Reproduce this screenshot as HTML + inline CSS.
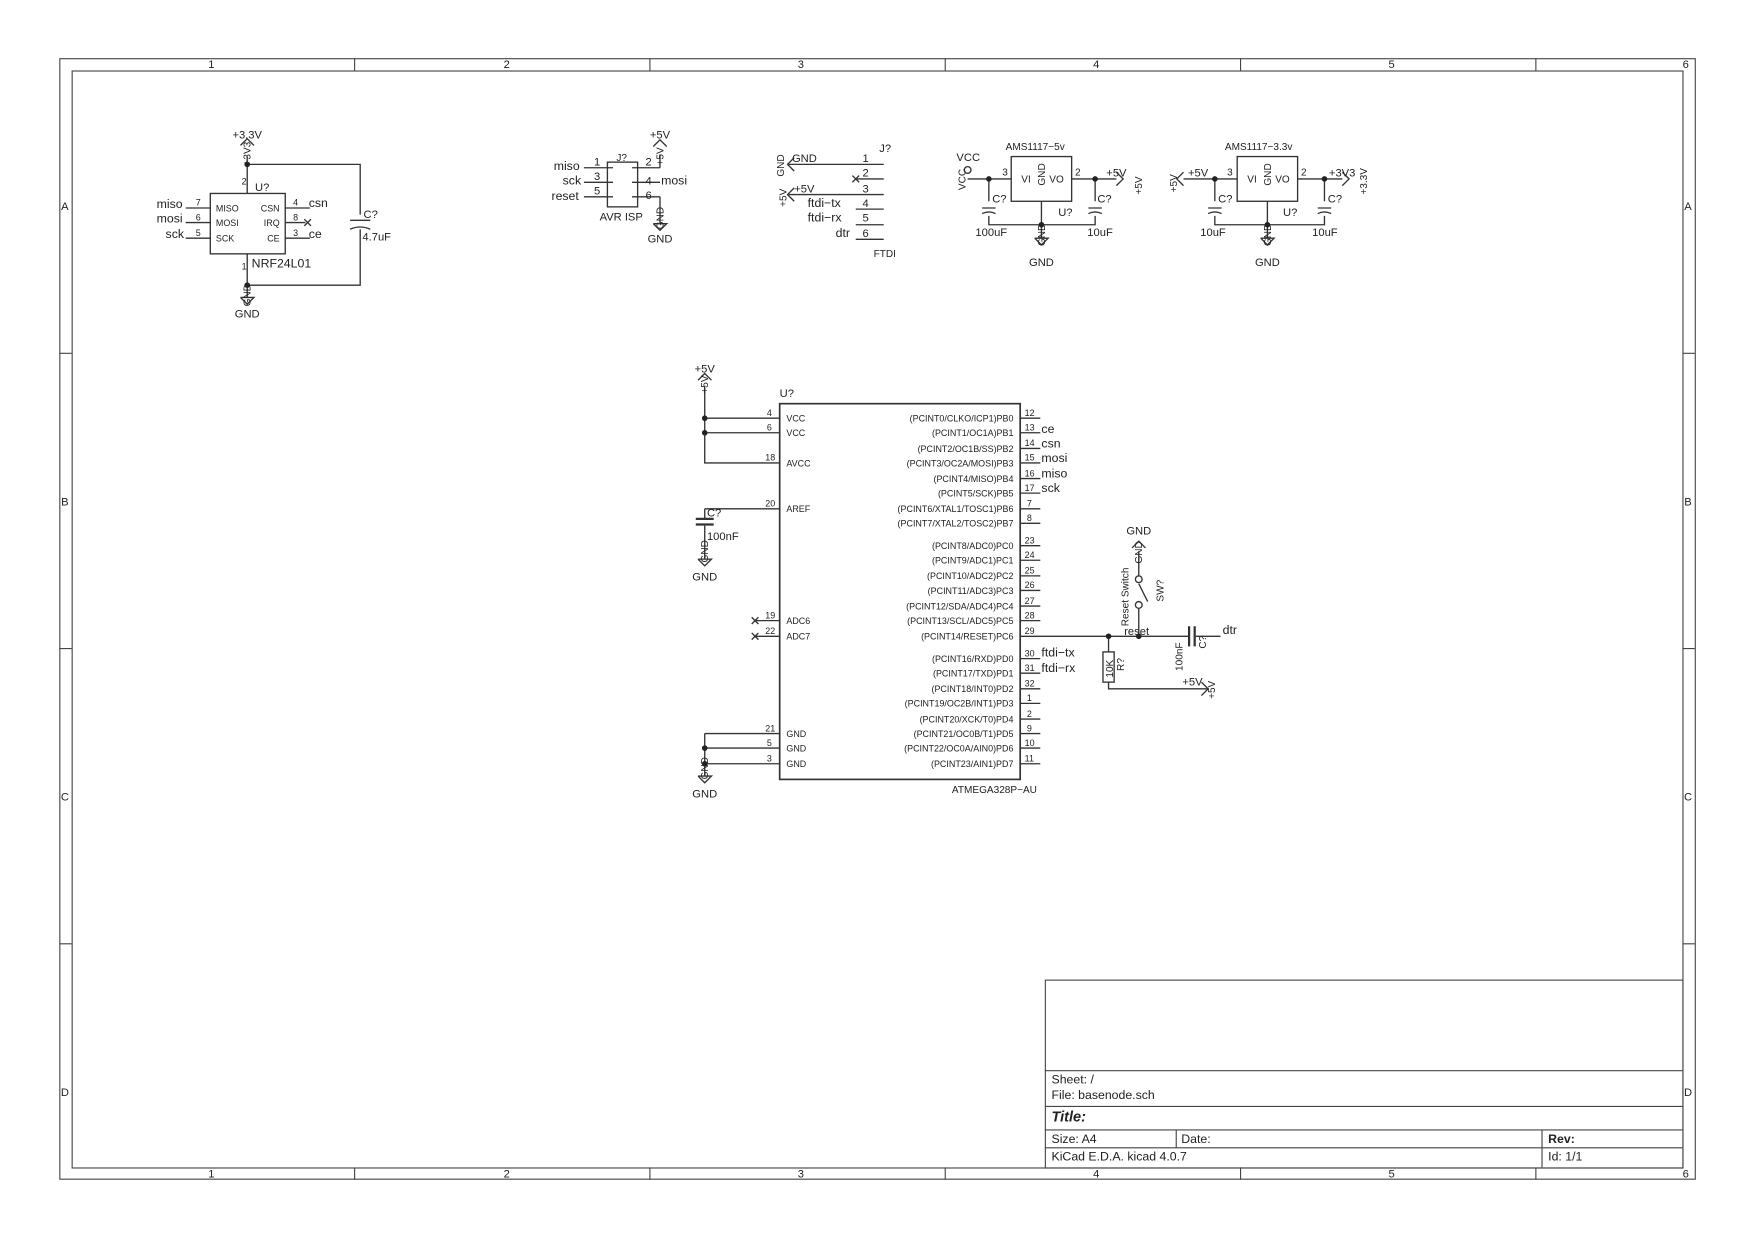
<!DOCTYPE html>
<html><head><meta charset="utf-8"><style>
html,body{margin:0;padding:0;background:#fff;}
svg{display:block}
text{font-family:"Liberation Sans",sans-serif;fill:#222}
</style></head><body>
<svg width="1754" height="1239" viewBox="0 0 1568 1108" preserveAspectRatio="none" xmlns="http://www.w3.org/2000/svg">
<g fill="none" stroke="#444" stroke-width="1">
<rect x="53.5" y="52.5" width="1462" height="1002"/>
<rect x="64.5" y="63.5" width="1440" height="981"/>
<path d="M317 52v11M581 52v11M845 52v11M1109 52v11M1373 52v11M317 1044v11M581 1044v11M845 1044v11M1109 1044v11M1373 1044v11M53 316h11M53 580h11M53 844h11M1504 316h11M1504 580h11M1504 844h11"/>
<rect x="934.5" y="876.5" width="570" height="168"/>
<path d="M934 957.5h570M934 989.5h570M934 1010.5h570M934 1026.5h570M1051.5 1010v16M1378.5 1010v34"/>
</g>
<g font-size="10" text-anchor="middle">
<text x="189" y="61">1</text><text x="453" y="61">2</text><text x="716" y="61">3</text><text x="980" y="61">4</text><text x="1244" y="61">5</text><text x="1507" y="61">6</text>
<text x="189" y="1053">1</text><text x="453" y="1053">2</text><text x="716" y="1053">3</text><text x="980" y="1053">4</text><text x="1244" y="1053">5</text><text x="1507" y="1053">6</text>
<text x="58" y="188">A</text><text x="58" y="452">B</text><text x="58" y="716">C</text><text x="58" y="980">D</text>
<text x="1509" y="188">A</text><text x="1509" y="452">B</text><text x="1509" y="716">C</text><text x="1509" y="980">D</text>
</g>
<g font-size="11">
<text x="940" y="969">Sheet: /</text><text x="940" y="983">File: basenode.sch</text>
<text x="940" y="1003" font-size="13" font-weight="bold" font-style="italic">Title:</text>
<text x="940" y="1022">Size: A4</text><text x="1056" y="1022">Date:</text><text x="1384" y="1022" font-weight="bold">Rev:</text>
<text x="940" y="1038">KiCad E.D.A.  kicad 4.0.7</text><text x="1384" y="1038">Id: 1/1</text>
</g>

<g fill="none" stroke="#333" stroke-width="1.2">
<rect x="188" y="173" width="67" height="54"/>
<path d="M221 140v33M221 227v28M221 147h101v45M322 205v50h-101"/>
<path d="M166 186h22M166 199h22M166 213h22M255 186h22M255 199h18M255 213h22"/>
<path d="M272 196l6 6M278 196l-6 6"/>
<path d="M313 197h18"/><path d="M313 205q9 -4 18 0"/>
<rect x="543" y="145" width="27" height="40"/>
<path d="M522 150h26M522 163h26M522 176h26M565 150h25M565 163h25M565 176h25M590 150v-12M590 176v12"/>
<path d="M705 147h85M765 160h25M705 174h85M765 187h25M765 201h25M765 214h25"/>
<path d="M762 157l6 6M768 157l-6 6"/>
<rect x="904" y="140" width="54" height="40"/>
<path d="M865 160h39M958 160h40M931 180v21M884 160v20M884 193v8h95v-8M979 160v20"/>
<path d="M878 186h12M878 191q6-3 12 0M973 186h12M973 191q6-3 12 0"/>
<circle cx="865" cy="152" r="3"/>
<rect x="1106" y="140" width="54" height="40"/>
<path d="M1058 160h48M1160 160h40M1133 180v21M1086 160v20M1086 193v8h98v-8M1184 160v20"/>
<path d="M1080 186h12M1080 191q6-3 12 0M1178 186h12M1178 191q6-3 12 0"/>
<rect x="697" y="361" width="215" height="336" stroke-width="1.5"/>
<path d="M630 345v69h67M630 374h67M630 387h67M630 455h67M630 455v10M630 470v20M675 555h22M675 569h22M630 656h67M630 669h67M630 683h67M630 656v34"/>
<path d="M622 464h16M622 469h16" stroke-width="2"/>
<path d="M672 552l6 6M678 552l-6 6M672 566l6 6M678 566l-6 6"/>
<path d="M912 374h18M912 387h18M912 401h18M912 414h18M912 428h18M912 441h18M912 455h18M912 468h18M912 488h18M912 501h18M912 515h18M912 528h18M912 542h18M912 555h18M912 589h18M912 602h18M912 616h18M912 629h18M912 643h18M912 656h18M912 669h18M912 683h18"/>
<path d="M912 569h150M1069 569h22M991 569v14M991 610v6h89M1018 493v22M1018 544v25M1018 522l8 16"/>
<rect x="986" y="583" width="10" height="27"/>
<path d="M1063 560v18M1068 560v18" stroke-width="2"/>
<circle cx="1018" cy="518" r="3"/><circle cx="1018" cy="541" r="3"/>
<path d="M215 130l6-6 6 6M215 266l6 6 6-6h-12M584 131l6-6 6 6M584 200l6 6 6-6h-12M624 340l6-6 6 6M624 500l6 6 6-6h-12M624 694l6 6 6-6h-12M925 213l6 6 6-6h-12M1127 213l6 6 6-6h-12M710 141l-6 6 6 6M710 168l-6 6 6 6M998 154l6 6-6 6M1058 154l-6 6 6 6M1200 154l6 6-6 6M1012 490l6-6 6 6M1074 610l6 6-6 6"/>
<path d="M221 255v11M590 188v12M630 490v10M630 690v4M931 201v12M1133 201v12"/>
</g>
<g fill="#222">
<circle cx="221" cy="147" r="2.5"/><circle cx="221" cy="255" r="2.5"/>
<circle cx="884" cy="160" r="2.5"/><circle cx="979" cy="160" r="2.5"/><circle cx="931" cy="201" r="2.5"/>
<circle cx="1086" cy="160" r="2.5"/><circle cx="1184" cy="160" r="2.5"/><circle cx="1133" cy="201" r="2.5"/>
<circle cx="630" cy="374" r="2.5"/><circle cx="630" cy="387" r="2.5"/><circle cx="630" cy="669" r="2.5"/><circle cx="630" cy="683" r="2.5"/>
<circle cx="991" cy="569" r="2.5"/><circle cx="1018" cy="569" r="2.5"/>
</g>
<g font-size="8">
<text x="193" y="189">MISO</text><text x="193" y="202">MOSI</text><text x="193" y="216">SCK</text>
<text x="250" y="189" text-anchor="end">CSN</text><text x="250" y="202" text-anchor="end">IRQ</text><text x="250" y="216" text-anchor="end">CE</text>
<text x="703" y="377">VCC</text><text x="703" y="390">VCC</text><text x="703" y="417">AVCC</text><text x="703" y="458">AREF</text><text x="703" y="558">ADC6</text><text x="703" y="572">ADC7</text><text x="703" y="659">GND</text><text x="703" y="672">GND</text><text x="703" y="686">GND</text>
<g text-anchor="end">
<text x="906" y="377">(PCINT0/CLKO/ICP1)PB0</text><text x="906" y="390">(PCINT1/OC1A)PB1</text><text x="906" y="404">(PCINT2/OC1B/SS)PB2</text><text x="906" y="417">(PCINT3/OC2A/MOSI)PB3</text><text x="906" y="431">(PCINT4/MISO)PB4</text><text x="906" y="444">(PCINT5/SCK)PB5</text><text x="906" y="458">(PCINT6/XTAL1/TOSC1)PB6</text><text x="906" y="471">(PCINT7/XTAL2/TOSC2)PB7</text>
<text x="906" y="491">(PCINT8/ADC0)PC0</text><text x="906" y="504">(PCINT9/ADC1)PC1</text><text x="906" y="518">(PCINT10/ADC2)PC2</text><text x="906" y="531">(PCINT11/ADC3)PC3</text><text x="906" y="545">(PCINT12/SDA/ADC4)PC4</text><text x="906" y="558">(PCINT13/SCL/ADC5)PC5</text><text x="906" y="572">(PCINT14/RESET)PC6</text>
<text x="906" y="592">(PCINT16/RXD)PD0</text><text x="906" y="605">(PCINT17/TXD)PD1</text><text x="906" y="619">(PCINT18/INT0)PD2</text><text x="906" y="632">(PCINT19/OC2B/INT1)PD3</text><text x="906" y="646">(PCINT20/XCK/T0)PD4</text><text x="906" y="659">(PCINT21/OC0B/T1)PD5</text><text x="906" y="672">(PCINT22/OC0A/AIN0)PD6</text><text x="906" y="686">(PCINT23/AIN1)PD7</text>
<text x="690" y="372">4</text><text x="690" y="385">6</text><text x="693" y="412">18</text><text x="693" y="453">20</text><text x="693" y="553">19</text><text x="693" y="567">22</text><text x="693" y="654">21</text><text x="690" y="667">5</text><text x="690" y="681">3</text>
</g>
<g>
<text x="916" y="372">12</text><text x="916" y="385">13</text><text x="916" y="399">14</text><text x="916" y="412">15</text><text x="916" y="426">16</text><text x="916" y="439">17</text><text x="918" y="453">7</text><text x="918" y="466">8</text>
<text x="916" y="486">23</text><text x="916" y="499">24</text><text x="916" y="513">25</text><text x="916" y="526">26</text><text x="916" y="540">27</text><text x="916" y="553">28</text><text x="916" y="567">29</text>
<text x="916" y="587">30</text><text x="916" y="600">31</text><text x="916" y="614">32</text><text x="918" y="627">1</text><text x="918" y="641">2</text><text x="918" y="654">9</text><text x="916" y="667">10</text><text x="916" y="681">11</text>
</g>
<text x="851" y="709" font-size="9">ATMEGA328P−AU</text>
</g>
<g font-size="10">
<text x="697" y="355">U?</text>
<text x="630" y="333" text-anchor="middle">+5V</text>
<text x="630" y="519" text-anchor="middle">GND</text><text x="630" y="713" text-anchor="middle">GND</text>
<text x="632" y="462">C?</text><text x="632" y="483">100nF</text>
<text x="221" y="124" text-anchor="middle">+3.3V</text><text x="221" y="284" text-anchor="middle">GND</text>
<text x="228" y="171">U?</text><text x="225" y="239" font-size="11">NRF24L01</text>
<text x="262" y="184" font-size="8">4</text><text x="262" y="197" font-size="8">8</text><text x="262" y="211" font-size="8">3</text>
<text x="175" y="184" font-size="8">7</text><text x="175" y="197" font-size="8">6</text><text x="175" y="211" font-size="8">5</text>
<text x="216" y="165" font-size="8">2</text><text x="216" y="241" font-size="8">1</text>
<text x="325" y="195">C?</text><text x="324" y="215">4.7uF</text>
<text x="590" y="124" text-anchor="middle">+5V</text><text x="590" y="217" text-anchor="middle">GND</text>
<text x="551" y="144" font-size="9">J?</text><text x="536" y="197">AVR ISP</text>
<text x="531" y="148">1</text><text x="531" y="161">3</text><text x="531" y="174">5</text><text x="577" y="148">2</text><text x="577" y="165">4</text><text x="577" y="178">6</text>
<text x="771" y="145">1</text><text x="771" y="158">2</text><text x="771" y="172">3</text><text x="771" y="185">4</text><text x="771" y="198">5</text><text x="771" y="212">6</text>
<text x="786" y="136">J?</text><text x="781" y="230" font-size="9">FTDI</text>
<text x="708" y="145">GND</text><text x="710" y="172">+5V</text>
<text x="899" y="134" font-size="9">AMS1117−5v</text><text x="1095" y="134" font-size="9">AMS1117−3.3v</text>
<text x="855" y="144">VCC</text>
<text x="913" y="163" font-size="9">VI</text><text x="938" y="163" font-size="9">VO</text><text x="896" y="157" font-size="9">3</text><text x="961" y="157" font-size="9">2</text>
<text x="1115" y="163" font-size="9">VI</text><text x="1140" y="163" font-size="9">VO</text><text x="1097" y="157" font-size="9">3</text><text x="1163" y="157" font-size="9">2</text>
<text x="887" y="181">C?</text><text x="981" y="181">C?</text><text x="1089" y="181">C?</text><text x="1187" y="181">C?</text>
<text x="946" y="193">U?</text><text x="1147" y="193">U?</text>
<text x="872" y="211">100uF</text><text x="972" y="211">10uF</text><text x="1073" y="211">10uF</text><text x="1173" y="211">10uF</text>
<text x="931" y="238" text-anchor="middle">GND</text><text x="1133" y="238" text-anchor="middle">GND</text>
<text x="989" y="158">+5V</text><text x="1062" y="158">+5V</text><text x="1188" y="158">+3V3</text>
<text x="1018" y="478" text-anchor="middle">GND</text>
<text x="1005" y="568">reset</text><text x="1093" y="567" font-size="11">dtr</text>
<text x="1057" y="613">+5V</text>
</g>
<g font-size="11">
<text x="140" y="186">miso</text><text x="140" y="199">mosi</text><text x="148" y="213">sck</text>
<text x="276" y="185">csn</text><text x="276" y="213">ce</text>
<text x="495" y="152">miso</text><text x="503" y="165">sck</text><text x="493" y="179">reset</text><text x="591" y="165">mosi</text>
<text x="722" y="185">ftdi−tx</text><text x="722" y="198">ftdi−rx</text><text x="747" y="212">dtr</text>
<text x="931" y="387">ce</text><text x="931" y="400">csn</text><text x="931" y="413">mosi</text><text x="931" y="427">miso</text><text x="931" y="440">sck</text>
<text x="931" y="587">ftdi−tx</text><text x="931" y="601">ftdi−rx</text>
</g>
<g font-size="9">
<text transform="translate(995,606) rotate(-90)">10K</text>
<text transform="translate(1005,600) rotate(-90)">R?</text>
<text transform="translate(1057,600) rotate(-90)">100nF</text>
<text transform="translate(1078,580) rotate(-90)">C?</text>
<text transform="translate(1009,560) rotate(-90)">Reset Switch</text>
<text transform="translate(1040,538) rotate(-90)">SW?</text>
<text transform="translate(224,148) rotate(-90)">+3V3</text>
<text transform="translate(224,274) rotate(-90)">GND</text>
<text transform="translate(593,148) rotate(-90)">+5V</text>
<text transform="translate(593,205) rotate(-90)">GND</text>
<text transform="translate(633,352) rotate(-90)">+5V</text>
<text transform="translate(633,503) rotate(-90)">GND</text>
<text transform="translate(633,697) rotate(-90)">GND</text>
<text transform="translate(701,158) rotate(-90)">GND</text>
<text transform="translate(703,185) rotate(-90)">+5V</text>
<text transform="translate(863,170) rotate(-90)">VCC</text>
<text transform="translate(934,220) rotate(-90)">GND</text>
<text transform="translate(1136,220) rotate(-90)">GND</text>
<text transform="translate(934,166) rotate(-90)">GND</text>
<text transform="translate(1136,166) rotate(-90)">GND</text>
<text transform="translate(1021,174) rotate(-90)">+5V</text>
<text transform="translate(1052,172) rotate(-90)">+5V</text>
<text transform="translate(1222,174) rotate(-90)">+3.3V</text>
<text transform="translate(1021,504) rotate(-90)">GND</text>
<text transform="translate(1086,625) rotate(-90)">+5V</text>
</g>
</svg>
</body></html>
